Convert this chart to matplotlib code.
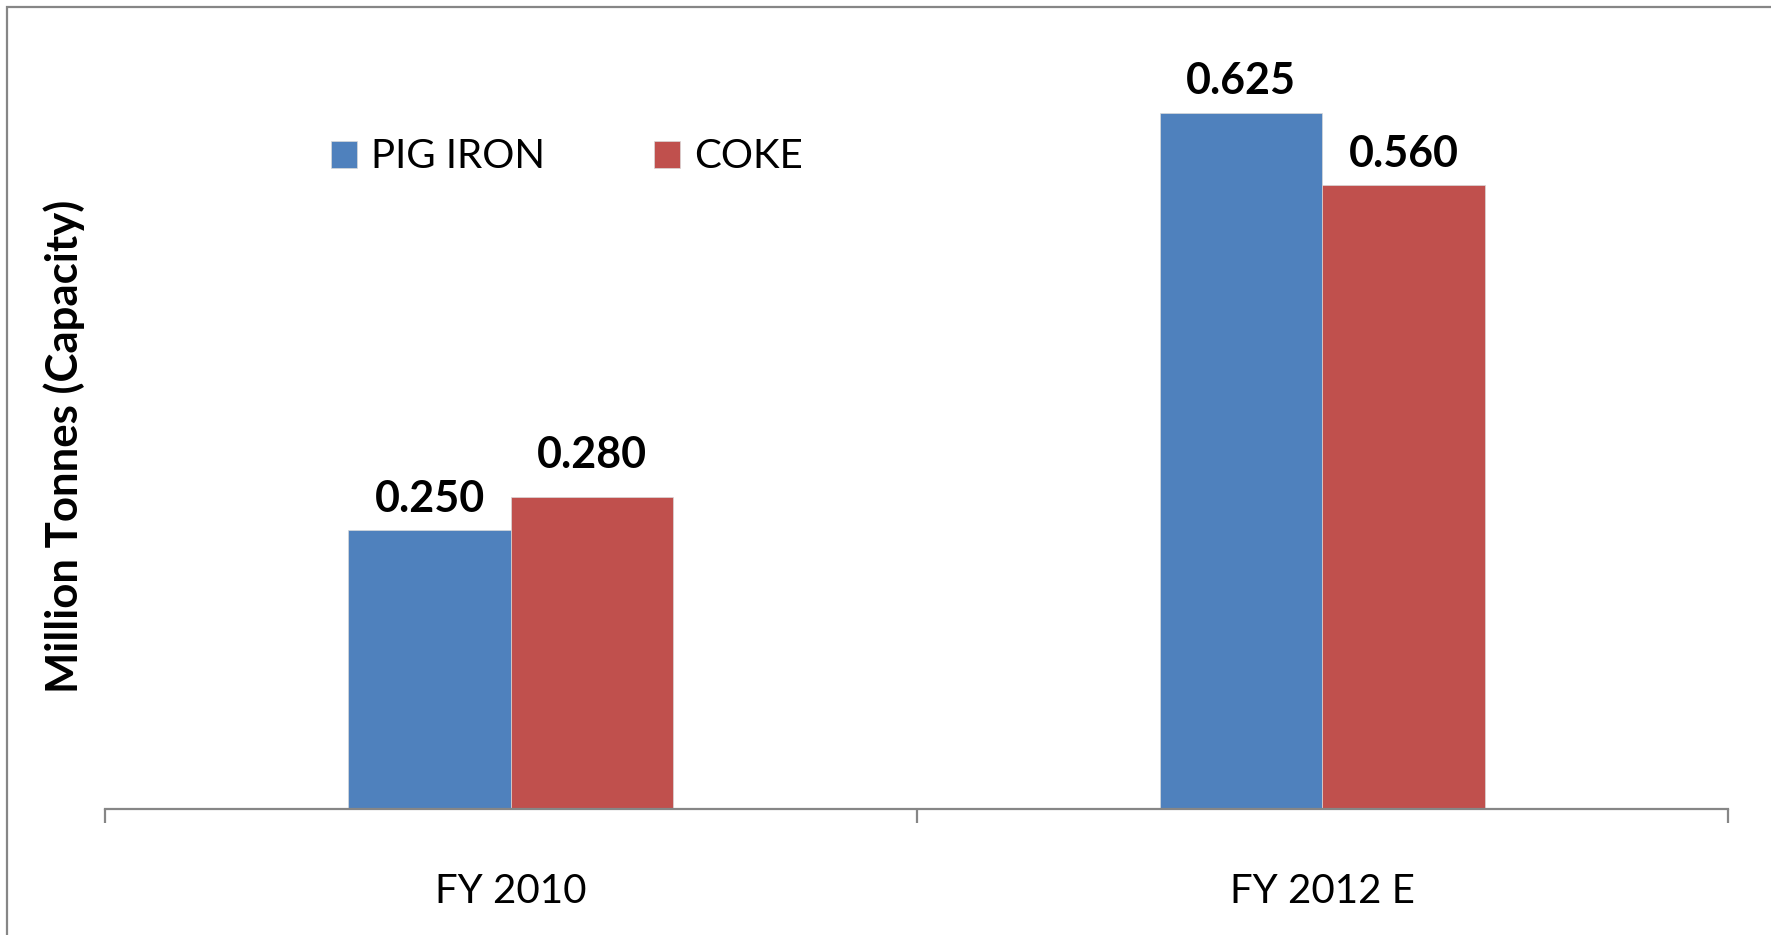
import matplotlib
matplotlib.use('Agg')
import matplotlib.pyplot as plt
from matplotlib.patches import Rectangle
import numpy as np

# Data
categories = ['FY 2010', 'FY 2012 E']
series_names = ['PIG IRON', 'COKE']
pig_iron = [0.250, 0.625]
coke = [0.280, 0.560]
colors = ['#4F81BD', '#C0504D']

plt.rcParams['font.family'] = ['Lato', 'DejaVu Sans']

W, H = 1771, 935
fig = plt.figure(figsize=(W / 100, H / 100), dpi=100)

# Axes placed in pixel terms
left, right, bottom, top = 105, 1728, 809, 29
ax = fig.add_axes([left / W, 1 - bottom / H, (right - left) / W, (bottom - top) / H])

x = np.arange(len(categories)) + 0.5
bw = 0.2
bars1 = ax.bar(x - bw / 2, pig_iron, bw, color=colors[0], label=series_names[0],
               edgecolor='#d9d9d9', linewidth=0.5)
bars2 = ax.bar(x + bw / 2, coke, bw, color=colors[1], label=series_names[1],
               edgecolor='#d9d9d9', linewidth=0.5)

# Value labels (the FY 2010 coke label sits a bit higher in the original)
for bars, offs in ((bars1, [8, 8]), (bars2, [16, 8])):
    for bar, off in zip(bars, offs):
        h = bar.get_height()
        ax.annotate(f'{h:.3f}', (bar.get_x() + bar.get_width() / 2, h),
                    xytext=(0, off), textcoords='offset points',
                    ha='center', va='bottom', fontsize=31, fontweight='bold')

ax.set_xlim(0, len(categories))
ax.set_ylim(0, 0.7)

for side in ('top', 'right', 'left'):
    ax.spines[side].set_visible(False)
ax.spines['bottom'].set_color('#868686')
ax.spines['bottom'].set_linewidth(1.6)
ax.set_yticks([])

ax.set_xticks(x)
ax.set_xticklabels(categories, fontsize=29)
ax.tick_params(axis='x', which='major', length=0, pad=46)
ax.set_xticks(np.arange(len(categories) + 1), minor=True)
ax.tick_params(axis='x', which='minor', length=10, width=1.6, color='#868686')

fig.text(64 / W, 1 - 446 / H, 'Million Tonnes (Capacity)', rotation=90,
         ha='center', va='center', fontsize=31.5, fontweight='bold')

leg = fig.legend(loc='center left', bbox_to_anchor=(331 / W, 1 - 157 / H), ncol=2,
                 frameon=False, fontsize=29, handlelength=0.65, handleheight=0.65,
                 handletextpad=0.35, columnspacing=2.7, borderpad=0, borderaxespad=0)

# Outer border (left and top visible)
fig.patches.append(Rectangle((7 / W, -0.1), 1.2, 1 - 7 / H + 0.1, transform=fig.transFigure,
                             fill=False, edgecolor='#868686', linewidth=1.6))

fig.savefig('out.png', dpi=100)
